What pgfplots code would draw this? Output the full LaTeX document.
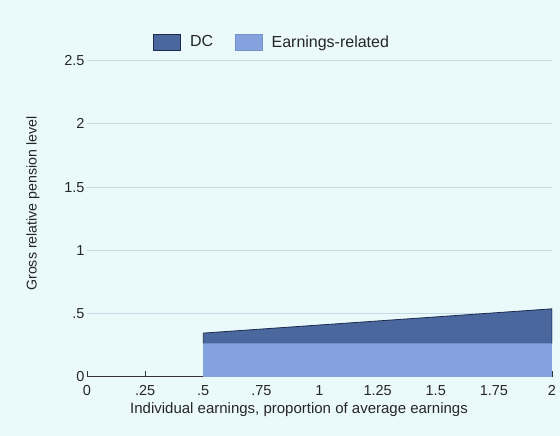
\documentclass[border=0pt]{standalone}
\usepackage{pgfplots}
\pgfplotsset{compat=1.18}
\usepackage{fontspec}
\setmainfont{Liberation Sans}
\definecolor{bgc}{HTML}{EAF9FA}
\definecolor{dcfill}{HTML}{4A679E}
\definecolor{dcline}{HTML}{1C2B4E}
\definecolor{erfill}{HTML}{84A2DE}
\definecolor{gridc}{HTML}{C5D9E6}
\definecolor{axc}{HTML}{333333}
\begin{document}
\begin{tikzpicture}
\fill[bgc] (0bp,0bp) rectangle (560bp,436bp);
\useasboundingbox (0bp,0bp) rectangle (560bp,436bp);
\begin{axis}[
  at={(87bp,59.3bp)}, anchor=south west,
  scale only axis, width=465bp, height=316bp,
  xmin=0, xmax=2, ymin=0, ymax=2.5,
  axis x line*=bottom, axis y line*=left,
  y axis line style={draw=none},
  x axis line style={draw=axc, line width=0.8pt, -},
  xtick={0,0.25,0.5,0.75,1,1.25,1.5,1.75,2},
  xticklabels={0,.25,.5,.75,1,1.25,1.5,1.75,2},
  ytick={0,0.5,1,1.5,2,2.5},
  yticklabels={0,.5,1,1.5,2,2.5},
  xtick align=inside,
  xtick style={draw=axc, line width=0.8pt},
  ytick style={draw=none},
  major tick length=6bp,
  ymajorgrids, grid style={gridc, line width=0.8pt},
  tick label style={font=\fontsize{14.5bp}{16bp}\selectfont, text=black!85},
  xticklabel style={anchor=base, yshift=-18.3bp},
  yticklabel style={xshift=1bp},
  label style={font=\fontsize{15bp}{17bp}\selectfont, text=black!85},
  xlabel={Individual earnings, proportion of average earnings},
  ylabel={Gross relative pension level},
  xlabel style={at={(axis description cs:0.456,-0.115)}, anchor=base},
  ylabel style={at={(axis description cs:-0.116,0.548)}, anchor=center, font=\fontsize{14.2bp}{16bp}\selectfont},
  legend style={at={(axis description cs:0.142,1.059)}, anchor=west, draw=none, fill=none,
    inner sep=0pt,
    font=\fontsize{16bp}{18bp}\selectfont, text=black!85,
    legend columns=2,
    /tikz/every odd column/.append style={column sep=7bp},
    /tikz/every even column/.append style={column sep=20bp}},
  legend cell align=left,
]
\addplot[fill=erfill, draw=none, forget plot] coordinates {(0.5,0) (0.5,0.264) (2,0.264) (2,0)} -- cycle;
\addplot[fill=dcfill, draw=none, forget plot] coordinates {(0.5,0.264) (0.5,0.345) (1,0.409) (1.5,0.473) (2,0.537) (2,0.264)} -- cycle;
\addplot[draw=dcline, line width=0.8pt, forget plot] coordinates {(0.5,0.264) (0.5,0.345) (1,0.409) (1.5,0.473) (2,0.537) (2,0.264)};
\addlegendimage{legend image code/.code={\draw[fill=dcfill, draw=dcline, line width=0.8pt] (0bp,-8bp) rectangle (27bp,8bp);}}
\addlegendentry{DC}
\addlegendimage{legend image code/.code={\draw[fill=erfill, draw=erfill!90!black, line width=0.5pt] (0bp,-8bp) rectangle (27bp,8bp);}}
\addlegendentry{Earnings-related}
\end{axis}
\end{tikzpicture}
\end{document}
